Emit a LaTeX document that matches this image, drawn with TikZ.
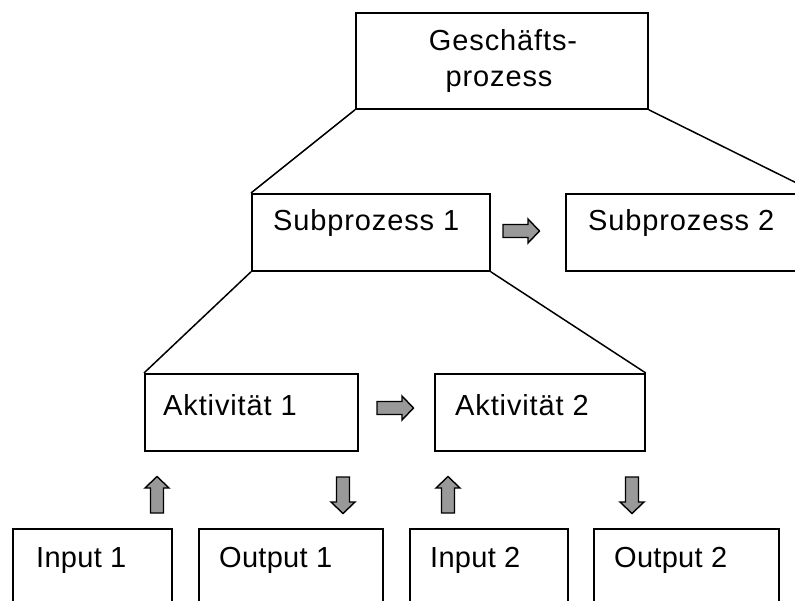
\documentclass[tikz,border=0pt]{standalone}
\usepackage{fontspec}
\setmainfont{Liberation Sans}
\newfontfamily\widesans[LetterSpace=3]{Liberation Sans}
\newfontfamily\bottomsans[LetterSpace=1]{Liberation Sans}
\begin{document}
\begin{tikzpicture}[x=1pt,y=-1pt,
  box/.style={draw=black, line width=1.8pt, fill=white, rectangle, inner sep=0pt, anchor=north west},
  txt/.style={inner sep=0pt, anchor=base west, font=\widesans\fontsize{29}{34}\selectfont},
  btxt/.style={txt, font=\bottomsans\fontsize{29}{34}\selectfont},
  ctxt/.style={txt, anchor=base},
  link/.style={draw=black, line width=1.5pt},
  arrowbody/.style={draw=black, line width=1.4pt, fill=black!40, line join=miter},
  blockarrow/.pic={\path[arrowbody] (-18,-6.5) -- (7,-6.5) -- (7,-12) -- (18.5,0) -- (7,12) -- (7,6.5) -- (-18,6.5) -- cycle;}
]
\useasboundingbox (0,0) rectangle (795,600);
\clip (0,0) rectangle (795,600);
\fill[white] (0,0) rectangle (795,600);

% boxes
\node[box, minimum width=292pt, minimum height=96pt] (top)  at (355,12)  {};
\node[box, minimum width=238pt, minimum height=77pt] (sub1) at (251,193) {};
\node[box, minimum width=250pt, minimum height=77pt] (sub2) at (565,193) {};
\node[box, minimum width=213pt, minimum height=77pt] (akt1) at (144,373) {};
\node[box, minimum width=210pt, minimum height=77pt] (akt2) at (434,373) {};
\node[box, minimum width=159pt, minimum height=90pt] (in1)  at (12,528)  {};
\node[box, minimum width=184pt, minimum height=90pt] (out1) at (198,528) {};
\node[box, minimum width=158pt, minimum height=90pt] (in2)  at (409,528) {};
\node[box, minimum width=185pt, minimum height=90pt] (out2) at (593,528) {};

% connectors between levels
\draw[link] (top.south west) -- (sub1.north west);
\draw[link] (top.south east) -- (sub2.north east);
\draw[link] (sub1.south west) -- (akt1.north west);
\draw[link] (sub1.south east) -- (akt2.north east);

% labels
\node[ctxt] (topa) at (503,50) {Geschäfts-};
\node[ctxt] (topb) at (499,86) {prozess};
\node[txt] (tsub1) at (273,230) {Subprozess 1};
\node[txt] (tsub2) at (588,230) {Subprozess 2};
\node[txt] (takt1) at (163,415) {Aktivität 1};
\node[txt] (takt2) at (455,415) {Aktivität 2};
\node[btxt] (tin1)  at (36,567)  {Input 1};
\node[btxt] (tout1) at (219,567) {Output 1};
\node[btxt] (tin2)  at (430,567) {Input 2};
\node[btxt] (tout2) at (614,567) {Output 2};

% block arrows
\pic at (521,231) {blockarrow};
\pic at (395,408) {blockarrow};
\pic[rotate=90]  at (157,495) {blockarrow};
\pic[rotate=-90] at (343,495) {blockarrow};
\pic[rotate=90]  at (448,495) {blockarrow};
\pic[rotate=-90] at (632,495) {blockarrow};
\end{tikzpicture}
\end{document}
